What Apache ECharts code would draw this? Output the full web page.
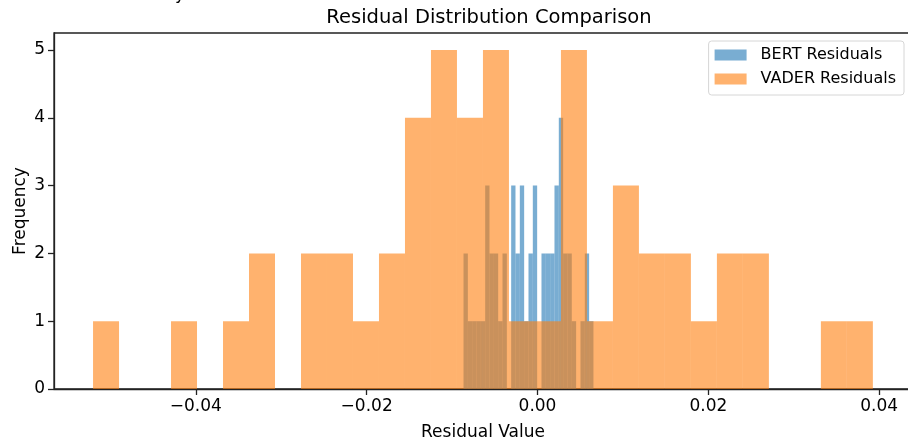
<!DOCTYPE html>
<html>
<head>
<meta charset="utf-8">
<script src="https://cdn.jsdelivr.net/npm/echarts@6/dist/echarts.min.js"></script>
<style>
  html, body { margin: 0; padding: 0; background: #fff; }
  #main { width: 908px; height: 442px; }
</style>
</head>
<body>
<div id="main"></div>
<script>
// histogram bins: first edge, bin width, counts per bin
var bertStart = -0.00866;
var bertWidth = 0.000507;
var bertCounts = [2, 1, 1, 1, 1, 3, 2, 2, 1, 2, 0, 3, 2, 3, 1, 2, 3, 0, 2, 2, 2, 3, 4, 2, 2, 1, 0, 1, 2, 1];

var vaderStart = -0.05203;
var vaderWidth = 0.003043;
var vaderCounts = [1, 0, 0, 1, 0, 1, 2, 0, 2, 2, 1, 2, 4, 5, 4, 5, 1, 1, 5, 1, 3, 2, 2, 1, 2, 2, 0, 0, 1, 1];

var xTicks = [-0.04, -0.02, 0, 0.02, 0.04];
var yTicks = [0, 1, 2, 3, 4, 5];

function bins(start, width, counts) {
    var out = [];
    for (var i = 0; i < counts.length; i++) {
        if (counts[i] > 0) {
            out.push([start + i * width, start + (i + 1) * width, counts[i]]);
        }
    }
    return out;
}

function renderBin(params, api) {
    var p0 = api.coord([api.value(0), api.value(2)]);
    var p1 = api.coord([api.value(1), 0]);
    return {
        type: 'rect',
        shape: { x: p0[0], y: p0[1], width: p1[0] - p0[0], height: p1[1] - p0[1] },
        style: { fill: api.visual('color') }
    };
}

var font = 'DejaVu Sans';
var myChart = echarts.init(document.getElementById('main'));

var option = {
    animation: false,
    title: {
        text: 'Residual Distribution Comparison',
        left: 484,
        top: 3,
        textAlign: 'center',
        textStyle: { fontFamily: font, fontSize: 19.5, fontWeight: 'normal', color: '#000' }
    },
    // clipped bit of text from above the figure
    graphic: [{
        type: 'text',
        left: 175,
        top: -14,
        style: { text: 'y', font: '17px "DejaVu Sans"', fill: '#000' }
    }],
    legend: {
        orient: 'vertical',
        right: 4,
        top: 41,
        padding: [6, 8, 8, 6],
        itemWidth: 32,
        itemHeight: 11,
        itemGap: 8,
        icon: 'rect',
        backgroundColor: '#fff',
        borderColor: '#d6d6d6',
        borderWidth: 1,
        borderRadius: 3,
        textStyle: { fontFamily: font, fontSize: 16, color: '#000', padding: [0, 0, 0, 9] },
        data: ['BERT Residuals', 'VADER Residuals']
    },
    grid: {
        left: 54,
        right: -4,
        top: 33,
        bottom: 53,
        outerBoundsMode: 'none',
        show: true,
        borderColor: '#222',
        borderWidth: 1.3
    },
    xAxis: {
        type: 'value',
        min: -0.0566,
        max: 0.04384,
        name: 'Residual Value',
        nameLocation: 'middle',
        nameGap: 35,
        nameMoveOverlap: false,
        nameTextStyle: { fontFamily: font, fontSize: 17, color: '#000' },
        axisLine: { onZero: false, lineStyle: { color: '#222', width: 1.3 } },
        axisTick: { show: true, length: 6, customValues: xTicks, lineStyle: { color: '#222', width: 1.3 } },
        axisLabel: {
            customValues: xTicks,
            margin: 9,
            fontFamily: font,
            fontSize: 17,
            color: '#000',
            formatter: function (v) {
                return v.toFixed(2).replace('-', '\u2212');
            }
        },
        splitLine: { show: false }
    },
    yAxis: {
        type: 'value',
        min: 0,
        max: 5.25,
        name: 'Frequency',
        nameLocation: 'middle',
        nameGap: 25,
        nameMoveOverlap: false,
        nameTextStyle: { fontFamily: font, fontSize: 17, color: '#000' },
        axisLine: { show: true, onZero: false, lineStyle: { color: '#222', width: 1.3 } },
        axisTick: { show: true, length: 6, customValues: yTicks, lineStyle: { color: '#222', width: 1.3 } },
        axisLabel: { customValues: yTicks, margin: 9, fontFamily: font, fontSize: 17, color: '#000' },
        splitLine: { show: false }
    },
    series: [
        {
            name: 'BERT Residuals',
            type: 'custom',
            renderItem: renderBin,
            itemStyle: { color: 'rgba(31,119,180,0.6)' },
            encode: { x: [0, 1], y: 2 },
            data: bins(bertStart, bertWidth, bertCounts)
        },
        {
            name: 'VADER Residuals',
            type: 'custom',
            renderItem: renderBin,
            itemStyle: { color: 'rgba(255,127,14,0.6)' },
            encode: { x: [0, 1], y: 2 },
            data: bins(vaderStart, vaderWidth, vaderCounts)
        }
    ]
};

option && myChart.setOption(option);
</script>
</body>
</html>
